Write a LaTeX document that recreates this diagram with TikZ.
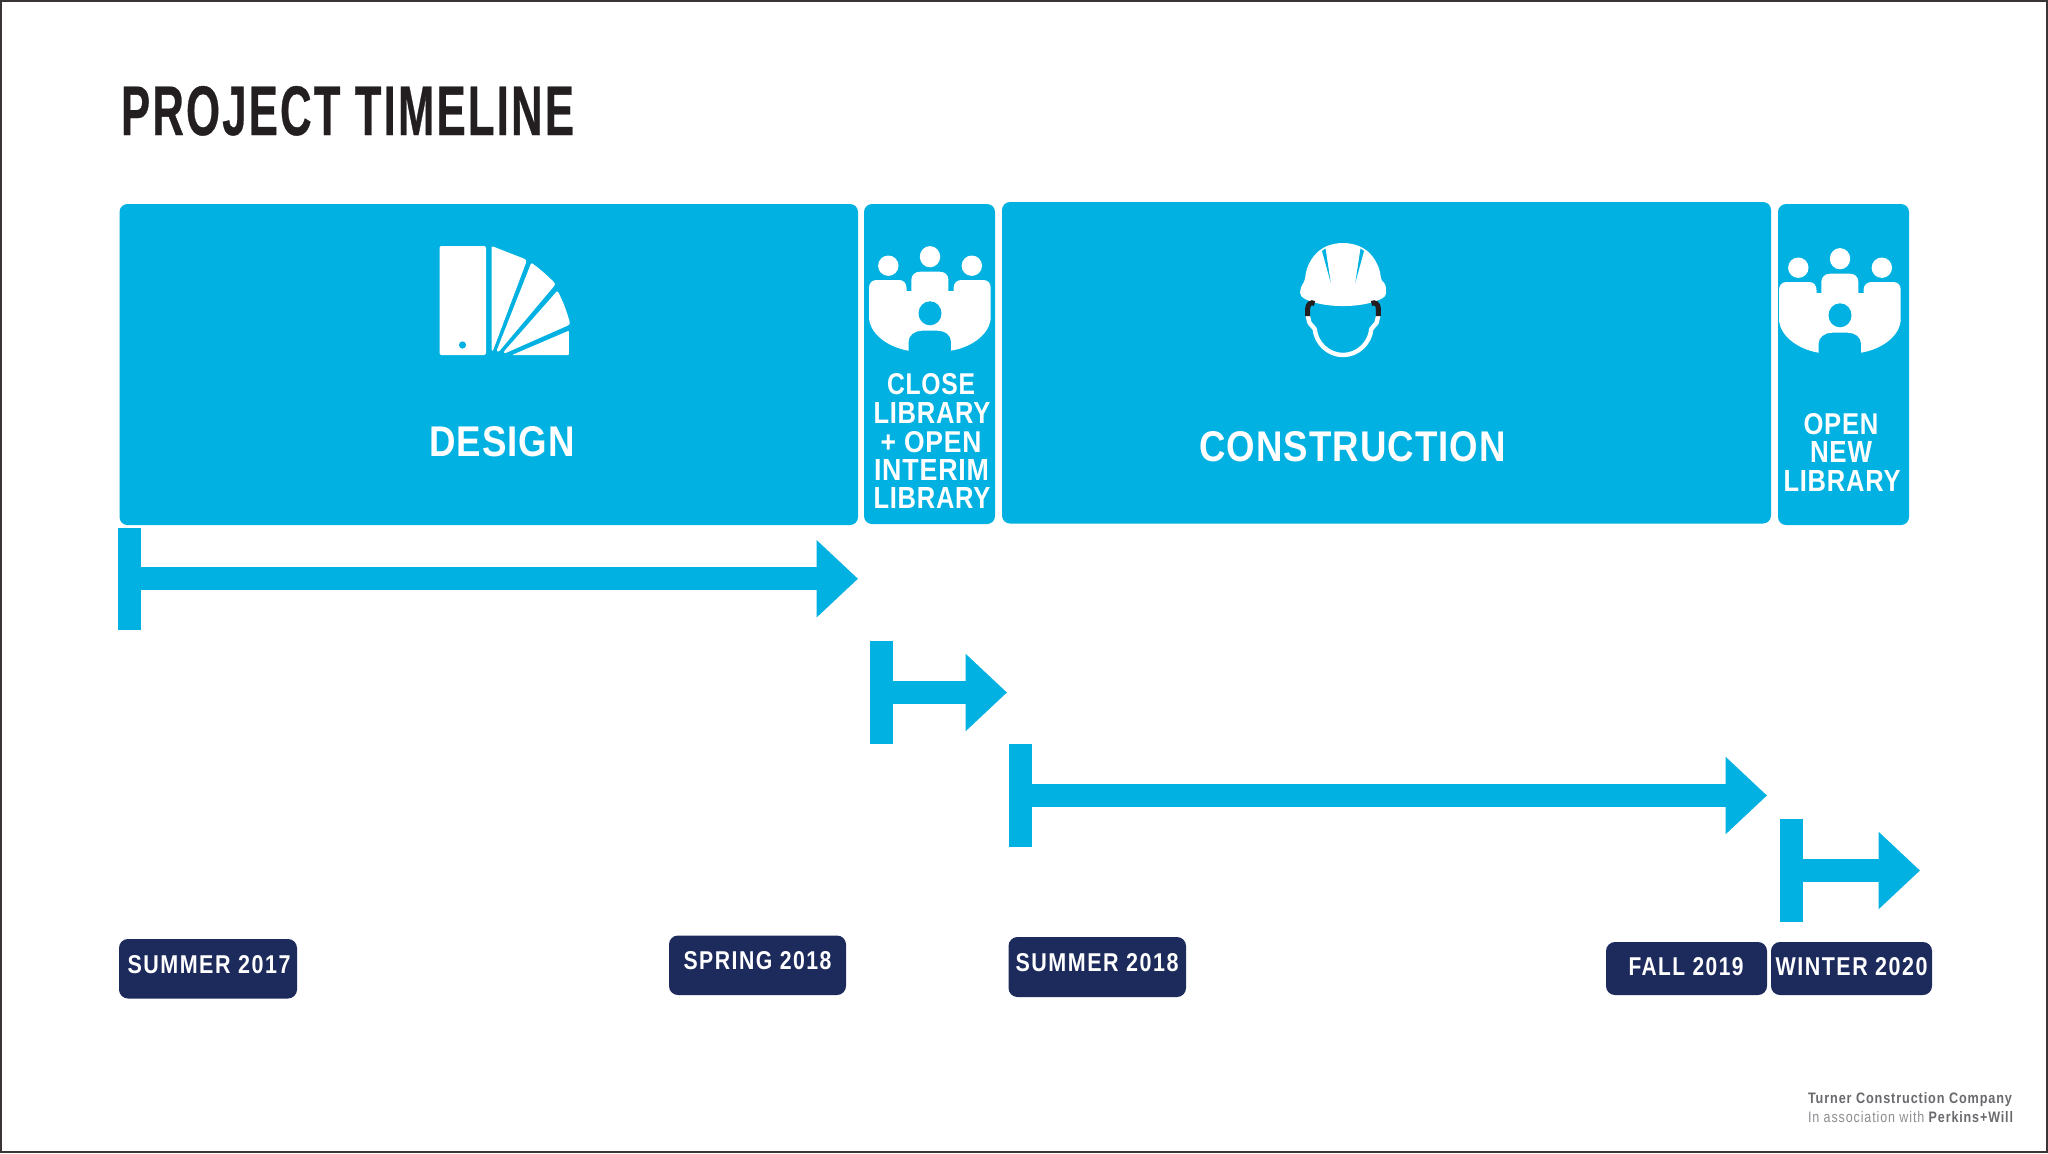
\documentclass[tikz,border=0pt]{standalone}
\usepackage{graphicx}
\usepackage{fontspec}
\setmainfont{Liberation Sans}
\usetikzlibrary{arrows.meta}
\definecolor{skyb}{HTML}{00B1E1}
\definecolor{navy}{HTML}{1C2A5C}
\definecolor{ink}{HTML}{231F20}
\definecolor{footd}{HTML}{6A6A6E}
\definecolor{footl}{HTML}{8E8E92}
\tikzset{
  panel/.style={fill=skyb,rounded corners=4pt,inner sep=0pt,outer sep=0pt},
  tagbox/.style={fill=navy,rounded corners=4.5pt,inner sep=0pt,outer sep=0pt},
  barrect/.style={fill=skyb,inner sep=0pt,outer sep=0pt},
  timearrow/.style={draw=skyb,line width=11.5pt,-{Triangle[length=20.75pt,width=37.5pt]}},
  lab/.style={anchor=base,inner sep=0pt,outer sep=0pt,text=white,font=\bfseries\addfontfeature{LetterSpace=3}},
  widelab/.style={lab,font=\bfseries\addfontfeature{LetterSpace=7}},
  titlelab/.style={lab,text=ink,font=\bfseries\addfontfeature{LetterSpace=5,FakeBold=0.6}},
  icon/.style={fill=white,draw=none}
}
\newcommand{\blockat}[6]{\node[#1,minimum width={(#5-#3)*0.5pt},minimum height={(#6-#4)*0.5pt}] (#2) at ({(#3+#5)/2},{(#4+#6)/2}) {};}
\newcommand{\fitlab}[7][lab]{\node[#1] (#2) at (#3,#4) {\resizebox{\dimexpr #5pt/2\relax}{\dimexpr #6pt/2\relax}{#7}};}
\newcommand{\peopleicon}[2]{%
\begin{scope}[shift={(#1,#2)}]
  \fill[icon] (888.3,265.7) circle[radius=5.1pt];
  \fill[icon] (930,256.7) circle[x radius=5.1pt,y radius=5.3pt];
  \fill[icon] (971.8,265.7) circle[radius=5.1pt];
  \fill[icon] (869,288) .. controls (869,283) and (872,280) .. (876.5,280)
    -- (899,280) .. controls (903.5,280) and (906.5,283) .. (906.5,288)
    -- (906.5,291) -- (911.3,291) -- (911.3,280)
    .. controls (911.3,275) and (915,271.7) .. (920,271.7)
    -- (939.7,271.7) .. controls (945,271.7) and (948.4,275) .. (948.4,280)
    -- (948.4,291) -- (953.6,291) -- (953.6,288)
    .. controls (953.6,283) and (957,280) .. (961.5,280)
    -- (983.2,280) .. controls (988,280) and (990.7,283) .. (990.7,288)
    -- (990.7,316.7) .. controls (990.7,333) and (973,347) .. (951,350.7)
    -- (951,341.7) .. controls (951,335) and (945,330.7) .. (937.8,330.7)
    -- (922,330.7) .. controls (915,330.7) and (908.5,335) .. (908.5,341.7)
    -- (908.5,350.7) .. controls (887,347) and (869,333) .. (869,316.7) -- cycle;
  \fill[skyb] (930,313.3) circle[x radius=5.75pt,y radius=6pt];
\end{scope}}
\begin{document}
\begin{tikzpicture}[x=0.5pt,y=-0.5pt]
\useasboundingbox (0,0) rectangle (2048,1153);
\fill[white] (0,0) rectangle (2048,1153);
\draw[draw=ink!90,line width=1pt] (1,1) rectangle (2047,1152);

% title
\fitlab[titlelab]{title}{347.5}{135}{453}{49}{PROJECT TIMELINE}

% panels
\blockat{panel}{design}{119.5}{204}{858}{525}
\blockat{panel}{closeb}{864}{204}{995}{524}
\blockat{panel}{constr}{1002}{202}{1771}{523.5}
\blockat{panel}{openb}{1778}{204}{1909}{525}

% panel labels
\fitlab{tdesign}{502}{456}{146}{30}{DESIGN}
\fitlab{tconstr}{1352.5}{461}{307}{30}{CONSTRUCTION}
\fitlab{tc1}{931}{394}{88}{21}{CLOSE}
\fitlab{tc2}{932}{423}{117}{21}{LIBRARY}
\fitlab{tc3}{931}{452}{101}{21}{+ OPEN}
\fitlab{tc4}{931.5}{480}{115}{21}{INTERIM}
\fitlab{tc5}{932}{508}{117}{21}{LIBRARY}
\fitlab{to1}{1841}{434}{75}{21}{OPEN}
\fitlab{to2}{1841}{462}{62}{21}{NEW}
\fitlab{to3}{1842}{491.5}{117}{21}{LIBRARY}

% fan icon
\fill[icon,rounded corners=1pt] (439.5,246) rectangle (486,355);
\fill[skyb] (462.5,345) circle[radius=1.8pt];
\fill[icon,rounded corners=0.6pt] (491.7,246) -- (525.7,259.3) -- (526.3,262) -- (493,350.5) -- (491.7,351) -- cycle;
\fill[icon,rounded corners=0.6pt] (531.3,262.7) .. controls (540,269) and (548,276) .. (555,283.3) -- (555,285) -- (498.5,352) -- (496.5,351) -- cycle;
\fill[icon,rounded corners=0.6pt] (557.4,290.7) .. controls (563,301) and (567,312) .. (570,323.3) -- (569,325) -- (504.5,353.5) -- (503.5,352) -- cycle;
\fill[icon,rounded corners=0.4pt] (568.8,330.7) -- (568.8,355) -- (512,355) -- cycle;

% people icons
\peopleicon{0}{0}
\peopleicon{910}{2}

% hard hat
\fill[icon,rounded corners=1pt] (1300.5,288) -- (1300,295) -- (1303,298)
  .. controls (1315,304) and (1330,306) .. (1343,306)
  .. controls (1356,306) and (1371,304) .. (1383,298) -- (1386.3,295) -- (1385.5,284) -- (1381,280)
  .. controls (1380,265) and (1372,253) .. (1361,247)
  .. controls (1350,242) and (1336,242) .. (1325,247)
  .. controls (1314,253) and (1306,265) .. (1305,280) -- cycle;
\fill[skyb] (1322,251) -- (1325.5,248.5) -- (1330.7,282.7) -- cycle;
\fill[skyb] (1360.5,248.5) -- (1364,251) -- (1355.3,282.7) -- cycle;
\draw[draw=white,line width=2.2pt,line join=round]
  (1307.6,315) -- (1309.5,323) .. controls (1310.5,326) and (1314,326) .. (1314.7,329)
  .. controls (1316,343) and (1328,355) .. (1343,355)
  .. controls (1358,355) and (1370,343) .. (1371.3,329)
  .. controls (1372,326) and (1375.5,326) .. (1376.5,323) -- (1378.4,315);
\draw[draw=ink,line width=2.5pt] (1307.6,316) -- (1307.6,309) .. controls (1307.6,304) and (1311,301.5) .. (1314.5,303.5);
\draw[draw=ink,line width=2.5pt] (1378.4,316) -- (1378.4,309) .. controls (1378.4,304) and (1375,301.5) .. (1371.5,303.5);

% timeline arrows
\blockat{barrect}{bara}{118}{527.5}{141}{630}
\coordinate (tipa) at (858,578.75);
\draw[timearrow] (bara.center) -- (tipa);
\blockat{barrect}{barb}{870}{641}{893}{744}
\coordinate (tipb) at (1007,692.5);
\draw[timearrow] (barb.center) -- (tipb);
\blockat{barrect}{barc}{1008.5}{744}{1032}{847}
\coordinate (tipc) at (1767,795.5);
\draw[timearrow] (barc.center) -- (tipc);
\blockat{barrect}{bard}{1780}{819}{1803}{922}
\coordinate (tipd) at (1920,870.5);
\draw[timearrow] (bard.center) -- (tipd);

% date tags
\blockat{tagbox}{tag1}{119}{939}{297}{998.5}
\blockat{tagbox}{tag2}{669}{935.5}{846}{995}
\blockat{tagbox}{tag3}{1008.5}{937}{1186}{997}
\blockat{tagbox}{tag4}{1606}{942}{1767}{995}
\blockat{tagbox}{tag5}{1771}{942}{1932}{995}
\fitlab[widelab]{d1}{209}{973}{163}{18}{SUMMER 2017}
\fitlab[widelab]{d2}{757.5}{969}{148}{18}{SPRING 2018}
\fitlab[widelab]{d3}{1097}{971}{163}{18}{SUMMER 2018}
\fitlab[widelab]{d4}{1686}{975}{115}{18}{FALL 2019}
\fitlab[widelab]{d5}{1851.5}{975}{152}{18}{WINTER 2020}

% footer
\fitlab[widelab,text=footd]{f1}{1910}{1103.5}{204}{11}{Turner Construction Company}
\fitlab[widelab,text=footl,font=\mdseries\addfontfeature{LetterSpace=7}]{f2}{1910.5}{1122}{205}{11}{In association with \textcolor{footd}{\bfseries\addfontfeature{LetterSpace=7}Perkins+Will}}
\end{tikzpicture}
\end{document}
